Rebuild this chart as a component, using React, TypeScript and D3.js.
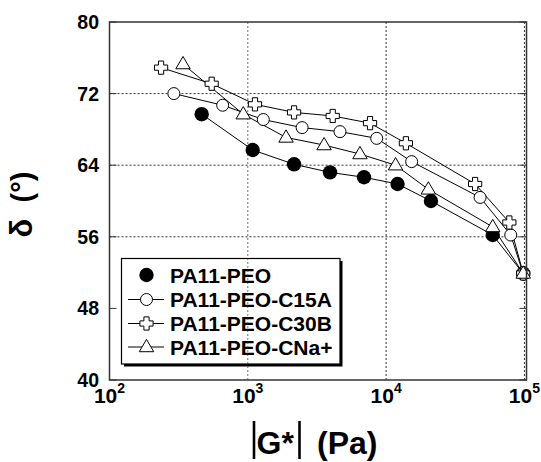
import React from "react";
import * as d3 from "d3";

// |G*| (Pa) and phase angle δ (°) for each blend
const peoG = [464, 1085, 2160, 3930, 6920, 12100, 21100, 59000, 98000];
const peoD = [69.7, 65.7, 64.1, 63.2, 62.65, 61.9, 60.0, 56.2, 51.9];

const c15aG = [292, 658, 1294, 2470, 4640, 8550, 15300, 47800, 79600, 98000];
const c15aD = [72.0, 70.7, 69.1, 68.2, 67.75, 67.0, 64.4, 60.4, 56.2, 51.9];

const c30bG = [236, 548, 1127, 2160, 4110, 7650, 13900, 44000, 77800, 98000];
const c30bD = [74.9, 73.1, 70.8, 69.9, 69.5, 68.7, 66.45, 61.9, 57.6, 51.9];

const cnaG = [340, 927, 1890, 3560, 6470, 11700, 20200, 59000, 98000];
const cnaD = [75.3, 69.7, 67.1, 66.25, 65.25, 64.0, 61.3, 57.1, 51.9];

const seriesNames = ["PA11-PEO", "PA11-PEO-C15A", "PA11-PEO-C30B", "PA11-PEO-CNa+"];
const yTicks = [40, 48, 56, 64, 72, 80];
const yGrid = [56, 64, 72];
const xTickExps = [2, 3, 4, 5];
const xGridExps = [3, 4, 5];

type Shape = "filled" | "circle" | "plus" | "triangle";

const FONT = "'Liberation Sans', Arial, Helvetica, sans-serif";

function Marker({ shape, x, y }: { shape: Shape; x: number; y: number }) {
  if (shape === "filled") return <circle cx={x} cy={y} r={7.2} fill="#000" />;
  if (shape === "circle")
    return <circle cx={x} cy={y} r={6} fill="#fff" stroke="#000" strokeWidth={1} />;
  if (shape === "plus") {
    const w = 2.6;
    const L = 6.6;
    const d = `M${x - w},${y - L}H${x + w}V${y - w}H${x + L}V${y + w}H${x + w}V${y + L}H${x - w}V${y + w}H${x - L}V${y - w}H${x - w}Z`;
    return <path d={d} fill="#fff" stroke="#000" strokeWidth={1} />;
  }
  const s = 7.6;
  const d = `M${x},${y - s}L${x + s * 0.95},${y + s * 0.62}L${x - s * 0.95},${y + s * 0.62}Z`;
  return <path d={d} fill="#fff" stroke="#000" strokeWidth={1} />;
}

export default function App() {
  const width = 541;
  const height = 462;
  const left = 109.5;
  const right = 526.5;
  const top = 22;
  const bottom = 380;

  const x = d3.scaleLog().domain([100, Math.pow(10, 5.015)]).range([left, right]);
  const y = d3.scaleLinear().domain([40, 80]).range([bottom, top]);

  const series: { name: string; g: number[]; d: number[]; shape: Shape }[] = [
    { name: seriesNames[0], g: peoG, d: peoD, shape: "filled" },
    { name: seriesNames[1], g: c15aG, d: c15aD, shape: "circle" },
    { name: seriesNames[2], g: c30bG, d: c30bD, shape: "plus" },
    { name: seriesNames[3], g: cnaG, d: cnaD, shape: "triangle" },
  ];

  const line = d3
    .line<[number, number]>()
    .x((p) => x(p[0]))
    .y((p) => y(p[1]));

  const legX = 121.5;
  const legY = 258.5;
  const legW = 218.5;
  const legH = 105.5;
  const rowY = [275, 299.5, 323.5, 347];

  return (
    <svg width={width} height={height} style={{ position: "absolute", left: 0, top: 0 }}>
      <rect width={width} height={height} fill="#fff" />

      {/* grid */}
      {yGrid.map((v) => (
        <line key={"gy" + v} x1={left} x2={right} y1={y(v)} y2={y(v)} stroke="#333" strokeWidth={1} strokeDasharray="2,2" />
      ))}

      {/* inner ticks */}
      {yTicks.map((v) => (
        <g key={"ty" + v}>
          <line x1={left} x2={left + 7} y1={y(v)} y2={y(v)} stroke="#333" />
          <line x1={right - 7} x2={right} y1={y(v)} y2={y(v)} stroke="#333" />
        </g>
      ))}

      {/* data lines */}
      {series.map((s) => (
        <path
          key={"l" + s.name}
          d={line(s.g.map((g, i) => [g, s.d[i]] as [number, number])) || ""}
          fill="none"
          stroke="#000"
          strokeWidth={1}
        />
      ))}

      {/* legend */}
      <rect x={legX + 2.5} y={legY + 2.5} width={legW} height={legH} fill="#000" />
      <rect x={legX} y={legY} width={legW} height={legH} fill="#fff" stroke="#000" strokeWidth={1.2} />
      {series.map((s, i) => (
        <g key={"lg" + s.name}>
          {i > 0 && <line x1={128} x2={164} y1={rowY[i]} y2={rowY[i]} stroke="#000" />}
          <Marker shape={s.shape} x={146.5} y={rowY[i]} />
          <text x={170} y={rowY[i]} dy="0.36em" fontFamily={FONT} fontWeight="bold" fontSize={21} fill="#000">
            {s.name}
          </text>
        </g>
      ))}

      {/* vertical grid */}
      {xGridExps.map((e) => (
        <line
          key={"gx" + e}
          x1={x(Math.pow(10, e))}
          x2={x(Math.pow(10, e))}
          y1={top}
          y2={bottom}
          stroke="#333"
          strokeWidth={1}
          strokeDasharray="2,2"
          opacity={e === 3 ? 0.7 : 1}
        />
      ))}

      {/* markers */}
      {series.map((s) =>
        s.g.map((g, i) => <Marker key={s.name + i} shape={s.shape} x={x(g)} y={y(s.d[i])} />)
      )}

      {/* frame */}
      <rect x={left} y={top} width={right - left} height={bottom - top} fill="none" stroke="#333" strokeWidth={1.5} />

      {/* y tick labels */}
      {yTicks.map((v) => (
        <text key={"yl" + v} x={99} y={y(v)} dy="0.36em" textAnchor="end" fontFamily={FONT} fontWeight="bold" fontSize={19.5} fill="#000">
          {v}
        </text>
      ))}

      {/* x tick labels */}
      {xTickExps.map((e) => (
        <text key={"xl" + e} x={x(Math.pow(10, e))} y={403} textAnchor="middle" fontFamily={FONT} fontWeight="bold" fontSize={21} fill="#000">
          10
          <tspan dy={-10} fontSize={14}>
            {e}
          </tspan>
        </text>
      ))}

      {/* x axis title */}
      <line x1={254} x2={254} y1={421} y2={459} stroke="#000" strokeWidth={2.6} />
      <text x={256.5} y={454} fontFamily={FONT} fontWeight="bold" fontSize={32} fill="#000">
        G*
      </text>
      <line x1={299.5} x2={299.5} y1={421} y2={459} stroke="#000" strokeWidth={2.6} />
      <text x={317} y={454} fontFamily={FONT} fontWeight="bold" fontSize={32} fill="#000">
        (Pa)
      </text>

      {/* y axis title */}
      <text transform="translate(32,228) rotate(-90)" textAnchor="middle" fontFamily={FONT} fontWeight="bold" fontSize={31} fill="#000">
        δ
      </text>
      <text transform="translate(32,187) rotate(-90)" textAnchor="middle" fontFamily={FONT} fontWeight="bold" fontSize={29} fill="#000">
        (°)
      </text>
    </svg>
  );
}
